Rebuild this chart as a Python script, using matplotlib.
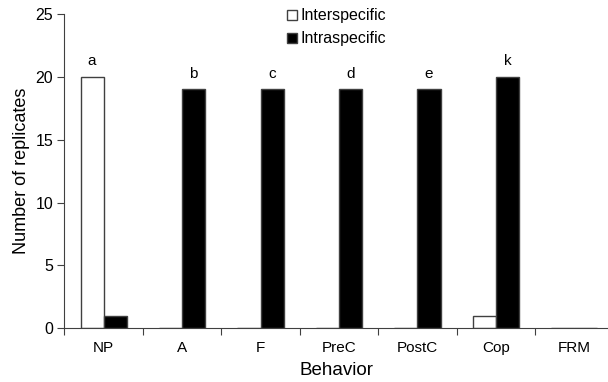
import numpy as np
import matplotlib
matplotlib.use('Agg')
import matplotlib.pyplot as plt

plt.rcParams['font.family'] = ['Liberation Sans', 'DejaVu Sans']

behaviors = ['NP', 'A', 'F', 'PreC', 'PostC', 'Cop', 'FRM']
interspecific = [20, 0, 0, 0, 0, 1, 0]
intraspecific = [1, 19, 19, 19, 19, 20, 0]
letters = ['a', 'b', 'c', 'd', 'e', 'k', '']

fig = plt.figure(figsize=(6.08, 3.82), dpi=100)
ax = fig.add_axes([0.106, 0.141, 0.894, 0.822])

x = np.arange(len(behaviors))
w = 0.295
edge = '#404040'
ax.bar(x - w / 2, interspecific, w, color='white', edgecolor=edge, linewidth=1.0,
       label='Interspecific')
ax.bar(x + w / 2, intraspecific, w, color='black', edgecolor=edge, linewidth=1.0,
       label='Intraspecific')

# significance letters above the taller bar of each group
for i, lab in enumerate(letters):
    if not lab:
        continue
    if interspecific[i] >= intraspecific[i]:
        xp, top = x[i] - w / 2, interspecific[i]
    else:
        xp, top = x[i] + w / 2, intraspecific[i]
    ax.text(xp, top + 1.25, lab, ha='center', va='center', fontsize=11)

ax.set_xlim(-0.5, 6.43)
ax.set_ylim(0, 25)
ax.set_yticks([0, 5, 10, 15, 20, 25])
ax.set_xticks(np.arange(-0.5, 6.5, 1.0))
ax.set_xticklabels([])
ax.set_xticks(x, minor=True)
ax.set_xticklabels(behaviors, minor=True)
ax.tick_params(axis='x', which='minor', length=0, pad=9, labelsize=11)
ax.tick_params(axis='x', which='major', direction='out', length=5, color=edge)
ax.tick_params(axis='y', direction='out', length=5, color=edge, labelsize=11.5,
               pad=3)

for s in ['top', 'right']:
    ax.spines[s].set_visible(False)
for s in ['left', 'bottom']:
    ax.spines[s].set_color(edge)

ax.set_xlabel('Behavior', fontsize=13.5, labelpad=5)
ax.set_ylabel('Number of replicates', fontsize=13, labelpad=4)

fig.legend(loc='upper left', bbox_to_anchor=(287 / 608, 0.978), frameon=False,
           fontsize=11.5, handlelength=0.6, handleheight=0.6, handletextpad=0.25,
           labelspacing=0.5, borderpad=0, borderaxespad=0)

fig.savefig('out.png', dpi=100)
